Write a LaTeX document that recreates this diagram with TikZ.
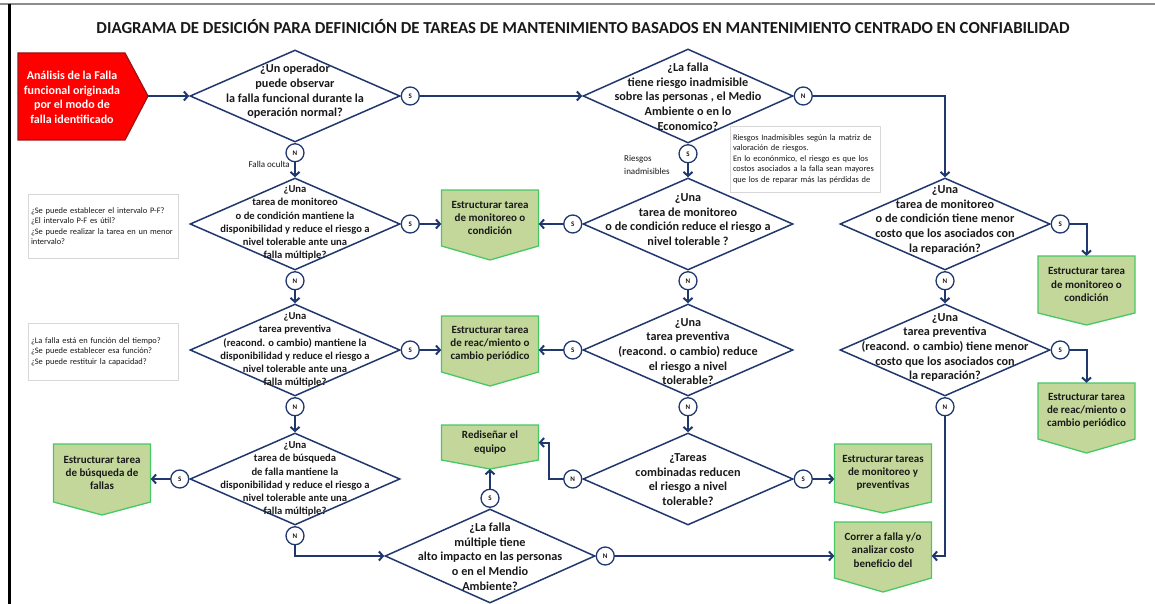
\documentclass[tikz,border=0pt]{standalone}
\usepackage{fontspec}
\setmainfont{Carlito}
\usetikzlibrary{shapes.geometric,arrows.meta,calc}
\definecolor{navy}{RGB}{32,56,110}
\definecolor{gfill}{RGB}{196,215,155}
\definecolor{gline}{RGB}{70,200,100}
\definecolor{redf}{RGB}{255,0,0}
\definecolor{redl}{RGB}{150,20,20}
\definecolor{notel}{RGB}{215,215,215}
\definecolor{txt}{RGB}{25,25,25}
\tikzset{
  dia/.style={draw=navy, line width=1.5pt, shape=diamond, minimum width=210pt, minimum height=92pt, inner sep=0pt, fill=white},
  dtA/.style={align=center, font=\bfseries\fontsize{12.2}{14.7}\selectfont, text=txt, inner sep=0pt},
  dtB/.style={align=center, font=\bfseries\fontsize{10.6}{13.1}\selectfont, text=txt, inner sep=0pt},
  yn/.style={circle, draw=navy, line width=1.3pt, fill=white, minimum size=18pt, inner sep=0pt, font=\bfseries\fontsize{7}{7}\selectfont, text=txt},
  arr/.style={draw=navy, line width=2pt, -{Straight Barb[length=4pt,width=9pt]}},
  gtxt/.style={align=center, font=\bfseries\fontsize{11}{13.2}\selectfont, text=txt, inner sep=0pt},
  gshape/.style={fill=gfill, draw=gline, line width=1.3pt, line join=miter},
  note/.style={draw=notel, line width=0.8pt, fill=white, align=left, inner xsep=3pt, inner ysep=0pt, font=\fontsize{8.4}{10.4}\selectfont, text=txt},
  lbl/.style={font=\fontsize{9}{13}\selectfont, text=txt, inner sep=0pt}
}
\newcommand\gbox[6]{%
  \path[gshape] (#2-48.5,#3) -- (#2+48.5,#3) -- (#2+48.5,#3+#4) -- (#2,#3+#4+#5) -- (#2-48.5,#3+#4) -- cycle;
  \node[gtxt, minimum width=97pt, minimum height=#4pt] (#1) at (#2,#3+#4/2) {#6};
  \coordinate (#1tip) at (#2,#3+#4+#5);
}
\begin{document}
\begin{tikzpicture}[x=1pt,y=-1pt]
\useasboundingbox (0,0) rectangle (1155,604);
% frame
\draw[line width=2pt, black!45] (0,4) -- (1155,4);
\draw[line width=3pt, black] (9.5,4) -- (9.5,604);
% title
\node[font=\bfseries, text=txt] (title) at (583,27) {\resizebox{973pt}{!}{DIAGRAMA DE DESICIÓN PARA DEFINICIÓN DE TAREAS DE MANTENIMIENTO BASADOS EN MANTENIMIENTO CENTRADO EN CONFIABILIDAD}};
% start
\path[fill=redf, draw=redl, line width=1.2pt] (18,53) -- (125,53) -- (148,96) -- (125,140) -- (18,140) -- cycle;
\node[align=center, font=\bfseries\fontsize{12}{14.5}\selectfont, text=white, inner sep=0pt] (start) at (72,97.5) {Análisis de la Falla\\funcional originada\\por el modo de\\falla identificado};
\coordinate (starttip) at (148,96);
% diamonds
\node[dia] (d1) at (295,96) {};
\node[dia, minimum height=94pt] (d2) at (688,96) {};
\node[dia] (d3) at (295,224) {};
\node[dia] (d5) at (688,224) {};
\node[dia] (d4) at (945,224) {};
\node[dia] (d6) at (295,350) {};
\node[dia] (d7) at (688,350) {};
\node[dia] (d8) at (945,350) {};
\node[dia] (d9) at (295,479) {};
\node[dia] (d10) at (688,479) {};
\node[dia, minimum height=94pt] (d11) at (490,556) {};
% diamond texts
\node[dtA] (d1t) at (295,91.5) {¿Un operador\\puede observar\\la falla funcional durante la\\operación normal?};
\node[dtA] (d2t) at (688,96.5) {¿La falla\\tiene riesgo inadmisible\\sobre las personas , el Medio\\Ambiente o en lo\\Economico?};
\node[dtB] (d3t) at (295,223) {¿Una\\tarea de monitoreo\\o de condición mantiene la\\disponibilidad y reduce el riesgo a\\nivel tolerable ante una\\falla múltiple?};
\node[dtA] (d5t) at (688,219.5) {¿Una\\tarea de monitoreo\\o de condición reduce el riesgo a\\nivel tolerable ?};
\node[dtA] (d4t) at (945,220) {¿Una\\tarea de monitoreo\\o de condición tiene menor\\costo que los asociados con\\la reparación?};
\node[dtB] (d6t) at (295,350) {¿Una\\tarea preventiva\\(reacond. o cambio) mantiene la\\disponibilidad y reduce el riesgo a\\nivel tolerable ante una\\falla múltiple?};
\node[dtA] (d7t) at (688,351.5) {¿Una\\tarea preventiva\\(reacond. o cambio) reduce\\el riesgo a nivel\\tolerable?};
\node[dtA] (d8t) at (945,347.5) {¿Una\\tarea preventiva\\(reacond. o cambio) tiene menor\\costo que los asociados con\\la reparación?};
\node[dtB] (d9t) at (295,479) {¿Una\\tarea de búsqueda\\de falla mantiene la\\disponibilidad y reduce el riesgo a\\nivel tolerable ante una\\falla múltiple?};
\node[dtA] (d10t) at (688,479.5) {¿Tareas\\combinadas reducen\\el riesgo a nivel\\tolerable?};
\node[dtA] (d11t) at (490,556.5) {¿La falla\\múltiple tiene\\alto impacto en las personas\\o en el Mendio\\Ambiente?};
% circles
\node[yn] (s1) at ($(d1.east)+(9.5,0)$) {S};
\node[yn] (n1) at ($(d1.south)+(0,10)$) {N};
\node[yn] (n2) at ($(d2.east)+(9.5,0)$) {N};
\node[yn] (s2) at ($(d2.south)+(0,10)$) {S};
\node[yn] (s3) at ($(d3.east)+(9.5,0)$) {S};
\node[yn] (n3) at ($(d3.south)+(0,10)$) {N};
\node[yn] (s5) at ($(d5.west)+(-9.5,0)$) {S};
\node[yn] (n5) at ($(d5.south)+(0,10)$) {N};
\node[yn] (s4) at ($(d4.east)+(9.5,0)$) {S};
\node[yn] (n4) at ($(d4.south)+(0,10)$) {N};
\node[yn] (s6) at ($(d6.east)+(9.5,0)$) {S};
\node[yn] (n6) at ($(d6.south)+(0,10)$) {N};
\node[yn] (s7) at ($(d7.west)+(-9.5,0)$) {S};
\node[yn] (n7) at ($(d7.south)+(0,10)$) {N};
\node[yn] (s8) at ($(d8.east)+(9.5,0)$) {S};
\node[yn] (n8) at ($(d8.south)+(0,10)$) {N};
\node[yn] (s9) at ($(d9.west)+(-9.5,0)$) {S};
\node[yn] (n9) at ($(d9.south)+(0,10)$) {N};
\node[yn] (n10) at ($(d10.west)+(-9.5,0)$) {N};
\node[yn] (s10) at ($(d10.east)+(9.5,0)$) {S};
\node[yn] (s11) at ($(d11.north)+(0,-10)$) {S};
\node[yn] (n11) at ($(d11.east)+(9.5,0)$) {N};
% green boxes
\gbox{g1}{490}{190}{56}{14}{Estructurar tarea\\de monitoreo o\\condición}
\gbox{g2}{490}{316}{56}{14}{Estructurar tarea\\de reac/miento o\\cambio periódico}
\gbox{g3}{102}{444}{58}{13}{Estructurar tarea\\de búsqueda de\\fallas}
\gbox{g4}{1086.5}{256}{57}{12}{Estructurar tarea\\de monitoreo o\\condición}
\gbox{g5}{1086.5}{383}{56}{14}{Estructurar tarea\\de reac/miento o\\cambio periódico}
\gbox{g6}{490}{425}{35}{9}{Rediseñar el\\equipo}
\gbox{g8}{883}{444}{58}{11}{Estructurar tareas\\de monitoreo y\\preventivas}
\gbox{g7}{883}{522}{56}{14}{Correr a falla y/o\\analizar costo\\beneficio del}
% notes
\node[note, text width=144pt, minimum height=64pt] (note1) at (103,226) {¿Se puede establecer el intervalo P-F?\\¿El intervalo P-F es útil?\\¿Se puede realizar la tarea en un menor\\intervalo?};
\node[note, text width=144pt, minimum height=57pt] (note2) at (103,351.5) {¿La falla está en función del tiempo?\\¿Se puede establecer esa función?\\¿Se puede restituir la capacidad?};
\node[note, text width=144pt, minimum height=66pt] (note3) at (805,159) {Riesgos Inadmisibles según la matriz de\\valoración de riesgos.\\En lo econónmico, el riesgo es que los\\costos asociados a la falla sean mayores\\que los de reparar más las pérdidas de};
% labels
\node[lbl, anchor=east] (lfo) at (290,164) {Falla oculta};
\node[lbl, align=left, anchor=west] (lri) at (624,165) {Riesgos\\inadmisibles};
% connectors
\draw[arr] (starttip) -- (d1.west);
\draw[arr] (s1) -- (d2.west);
\draw[arr] (n2) -| (d4.north);
\draw[arr] (n1) -- (d3.north);
\draw[arr] (s2) -- (d5.north);
\draw[arr] (s3) -- (s3 -| g1.west);
\draw[arr] (s5) -- (s5 -| g1.east);
\draw[arr] (n3) -- (d6.north);
\draw[arr] (n5) -- (d7.north);
\draw[arr] (n4) -- (d8.north);
\draw[arr] (s4) -| (g4.north);
\draw[arr] (s6) -- (s6 -| g2.west);
\draw[arr] (s7) -- (s7 -| g2.east);
\draw[arr] (s8) -| (g5.north);
\draw[arr] (n6) -- (d9.north);
\draw[arr] (n7) -- (d10.north);
\draw[arr] (n8) |- (n11 -| g7.east);
\draw[arr] (s9) -- (s9 -| g3.east);
\draw[arr] (n9) |- (d11.west);
\draw[arr] (s11) -- (g6tip);
\draw[arr] (n10) -- ++(-24,0) |- (g6.east);
\draw[arr] (s10) -- (s10 -| g8.west);
\draw[arr] (n11) -- (n11 -| g7.west);
\end{tikzpicture}
\end{document}
